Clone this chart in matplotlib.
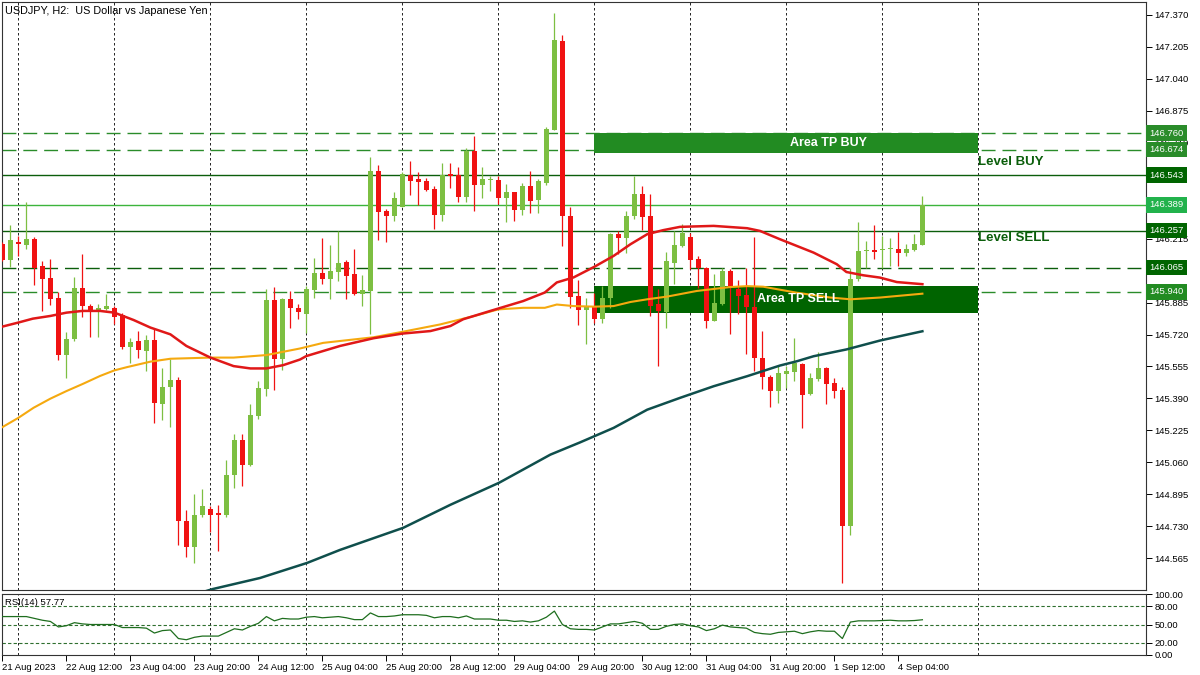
import numpy as np
import matplotlib
matplotlib.use("Agg")
import matplotlib.pyplot as plt
import matplotlib.transforms as mtransforms
from matplotlib.patches import Rectangle

plt.rcParams['font.family'] = ['Liberation Sans', 'DejaVu Sans']

# USDJPY H2 candles, 21 Aug 20:00 .. 4 Sep 10:00
opens = [146.186, 146.105, 146.198, 146.183, 146.212, 146.073, 146.011, 145.907, 145.614, 145.697,
         145.959, 145.869, 145.847, 145.854, 145.855, 145.823, 145.654, 145.685, 145.633, 145.692,
         145.361, 145.449, 145.483, 144.759, 144.621, 144.787, 144.821, 144.797, 144.787, 144.994,
         145.175, 145.044, 145.301, 145.438, 145.898, 145.593, 145.902, 145.859, 145.828, 145.950,
         146.040, 146.005, 146.043, 146.093, 146.031, 145.931, 145.945, 146.564, 146.357, 146.333,
         146.379, 146.545, 146.521, 146.512, 146.472, 146.336, 146.547, 146.545, 146.431, 146.667,
         146.493, 146.516, 146.517, 146.424, 146.455, 146.362, 146.486, 146.414, 146.505, 146.776,
         147.236, 146.330, 145.918, 145.847, 145.862, 145.799, 145.911, 146.238, 146.217, 146.330,
         146.448, 146.330, 145.880, 145.836, 146.087, 146.178, 146.224, 146.110, 146.064, 145.790,
         145.876, 146.048, 145.954, 145.924, 145.862, 145.601, 145.502, 145.428, 145.518, 145.526,
         145.568, 145.411, 145.488, 145.545, 145.468, 145.433, 144.730, 146.009, 146.150, 146.157,
         146.158, 146.162, 146.164, 146.143, 146.157, 146.183]
highs = [146.197, 146.286, 146.229, 146.402, 146.224, 146.100, 146.110, 145.940, 145.735, 146.017,
         146.135, 145.876, 145.876, 145.931, 145.867, 145.830, 145.702, 145.740, 145.719, 145.747,
         145.545, 145.592, 145.502, 144.816, 144.897, 144.920, 144.837, 144.842, 145.071, 145.208,
         145.204, 145.359, 145.482, 145.954, 145.964, 145.907, 145.945, 145.876, 145.971, 146.114,
         146.216, 146.183, 146.257, 146.104, 146.160, 146.030, 146.638, 146.596, 146.367, 146.457,
         146.557, 146.617, 146.560, 146.526, 146.485, 146.604, 146.607, 146.586, 146.681, 146.746,
         146.584, 146.539, 146.539, 146.495, 146.457, 146.500, 146.562, 146.522, 146.793, 147.379,
         147.269, 146.378, 146.000, 145.911, 145.937, 145.971, 146.243, 146.255, 146.359, 146.539,
         146.488, 146.445, 145.954, 146.147, 146.255, 146.293, 146.243, 146.126, 146.071, 146.031,
         146.066, 146.057, 146.002, 146.066, 146.226, 145.738, 145.509, 145.557, 145.557, 145.700,
         145.575, 145.523, 145.632, 145.552, 145.497, 145.449, 146.066, 146.299, 146.203, 146.285,
         146.229, 146.217, 146.247, 146.186, 146.238, 146.436]
lows = [146.098, 146.071, 146.126, 146.160, 145.976, 145.842, 145.873, 145.588, 145.494, 145.686,
        145.813, 145.707, 145.707, 145.849, 145.776, 145.643, 145.573, 145.599, 145.531, 145.265,
        145.278, 145.242, 144.632, 144.570, 144.539, 144.779, 144.701, 144.601, 144.780, 144.928,
        144.937, 145.040, 145.282, 145.402, 145.433, 145.535, 145.754, 145.799, 145.730, 145.911,
        145.980, 145.902, 145.995, 145.902, 145.923, 145.867, 145.721, 146.209, 146.200, 146.307,
        146.376, 146.440, 146.390, 146.462, 146.267, 146.307, 146.476, 146.405, 146.405, 146.359,
        146.424, 146.459, 146.393, 146.302, 146.307, 146.336, 146.350, 146.350, 146.493, 146.776,
        146.178, 145.859, 145.767, 145.669, 145.782, 145.782, 145.859, 146.138, 146.143, 146.319,
        146.259, 145.816, 145.557, 145.756, 145.980, 146.174, 146.057, 145.962, 145.756, 145.790,
        145.873, 145.721, 145.824, 145.621, 145.531, 145.437, 145.345, 145.364, 145.446, 145.480,
        145.239, 145.407, 145.480, 145.362, 145.394, 144.437, 144.687, 145.997, 146.066, 146.109,
        146.066, 146.074, 146.074, 146.126, 146.152, 146.181]
closes = [146.105, 146.207, 146.185, 146.212, 146.066, 146.009, 145.904, 145.614, 145.695, 145.959,
          145.867, 145.840, 145.855, 145.866, 145.813, 145.655, 145.683, 145.642, 145.692, 145.366,
          145.447, 145.483, 144.756, 144.621, 144.790, 144.837, 144.790, 144.789, 144.997, 145.173,
          145.044, 145.307, 145.442, 145.898, 145.593, 145.904, 145.859, 145.837, 145.954, 146.040,
          146.005, 146.048, 146.088, 146.022, 145.928, 145.949, 146.564, 146.353, 146.333, 146.424,
          146.550, 146.514, 146.508, 146.467, 146.336, 146.545, 146.538, 146.431, 146.667, 146.493,
          146.522, 146.519, 146.424, 146.455, 146.364, 146.486, 146.410, 146.514, 146.781, 147.243,
          146.330, 145.914, 145.847, 145.869, 145.799, 145.911, 146.238, 146.217, 146.330, 146.448,
          146.327, 145.867, 145.842, 146.100, 146.181, 146.243, 146.105, 146.064, 145.790, 145.881,
          146.048, 145.968, 145.919, 145.862, 145.601, 145.502, 145.428, 145.523, 145.531, 145.571,
          145.407, 145.494, 145.549, 145.463, 145.428, 144.730, 146.009, 146.149, 146.157, 146.147,
          146.160, 146.164, 146.140, 146.160, 146.190, 146.389]

# moving averages (bar index, price)
ma_fast_bar = [0, 2, 3.8, 6, 8, 10, 12.2, 14, 16.4, 18.5, 21, 23, 26, 28.9, 31, 33, 35.1, 37.2, 38,
               42.2, 46.4, 50, 53.5, 56, 57.6, 61, 65.1, 67.8, 69.3, 71.4, 74, 76.4, 78.5, 80.6, 82.6,
               84.7, 88.9, 93.1, 94.7, 97.2, 101.4, 104.3, 105.5, 107.6, 109.7, 111.8, 115]
ma_fast_val = [145.761, 145.782, 145.802, 145.816, 145.833, 145.842, 145.842, 145.833, 145.795, 145.756,
               145.721, 145.661, 145.601, 145.557, 145.545, 145.545, 145.562, 145.591, 145.609, 145.661,
               145.701, 145.725, 145.738, 145.764, 145.799, 145.842, 145.893, 145.937, 145.989, 146.015,
               146.070, 146.126, 146.186, 146.238, 146.259, 146.276, 146.281, 146.269, 146.255, 146.212,
               146.143, 146.083, 146.043, 146.026, 146.014, 145.991, 145.980]
ma_mid_bar = [0, 2, 3.9, 6, 8, 10.1, 12.2, 14, 15.6, 18.5, 21, 26, 28.9, 33, 37.2, 40.1, 46.4, 50,
              54.7, 58.9, 62, 65.1, 67.8, 69.3, 71.4, 74, 76.4, 78.5, 80.6, 83.1, 86.8, 90.9, 93.1,
              95.1, 99.3, 103.5, 106, 109.7, 115]
ma_mid_val = [145.242, 145.290, 145.342, 145.389, 145.428, 145.466, 145.506, 145.535, 145.552, 145.580,
              145.595, 145.601, 145.601, 145.614, 145.648, 145.677, 145.706, 145.734, 145.772, 145.815,
              145.850, 145.858, 145.858, 145.875, 145.867, 145.864, 145.867, 145.888, 145.902, 145.916,
              145.945, 145.965, 145.970, 145.967, 145.936, 145.911, 145.902, 145.911, 145.931]
ma_slow_bar = [24.7, 26.3, 32.2, 38.1, 42.2, 50.1, 56, 62.1, 68.5, 72.2, 76.4, 80.6, 84.7, 88.9,
               93.1, 97.2, 99.3, 101.4, 105.5, 109.7, 115]
ma_slow_val = [144.386, 144.406, 144.463, 144.541, 144.608, 144.722, 144.841, 144.955, 145.100, 145.163,
               145.238, 145.332, 145.393, 145.453, 145.505, 145.560, 145.582, 145.608, 145.643, 145.689,
               145.737]

rsi = [63, 63, 63, 63, 60, 57, 55, 46, 48, 53,
       51, 50, 50, 50, 50, 45, 45, 45, 44, 36,
       40, 41, 27, 25, 29, 31, 31, 31, 37, 43,
       41, 47, 52, 63, 56, 60, 59, 59, 62, 63,
       61, 62, 63, 61, 58, 58, 69, 63, 63, 64,
       66, 66, 66, 65, 61, 63, 63, 61, 64, 59,
       59, 59, 57, 57, 55, 56, 54, 56, 62, 72,
       50, 43, 42, 42, 41, 46, 51, 51, 53, 55,
       52, 42, 42, 47, 50, 51, 48, 46, 40, 43,
       49, 46, 45, 44, 37, 35, 34, 37, 38, 39,
       35, 38, 40, 39, 39, 27, 54, 56, 56, 56,
       56.5, 57, 56, 56, 56.5, 57.77]

# horizontal levels
level_prices = [146.760, 146.674, 146.543, 146.389, 146.257, 146.065, 145.940]
level_dashed = [True, True, False, False, False, True, True]
level_colors = ['#2a8c2a', '#2a8c2a', '#0b5e0b', '#3cb43c', '#0b5e0b', '#0b5e0b', '#2a8c2a']
level_box_colors = ['#2a8c2a', '#2a8c2a', '#006400', '#22b24c', '#006400', '#006400', '#228b22']

price_ticks = [144.565 + 0.165 * k for k in range(18)]
# scale labels that sit completely under a price box
hidden_ticks = ['146.050', '146.380', '146.545']
time_labels = ['21 Aug 2023', '22 Aug 12:00', '23 Aug 04:00', '23 Aug 20:00', '24 Aug 12:00',
               '25 Aug 04:00', '25 Aug 20:00', '28 Aug 12:00', '29 Aug 04:00', '29 Aug 20:00',
               '30 Aug 12:00', '31 Aug 04:00', '31 Aug 20:00', '1 Sep 12:00', '4 Sep 04:00']

bull = '#7dbf42'
bear = '#f01212'

fig = plt.figure(figsize=(12, 6.75), dpi=100)
ax = fig.add_axes([2 / 1200, 85 / 675, 1144 / 1200, 588 / 675])
ax2 = fig.add_axes([2 / 1200, 20 / 675, 1144 / 1200, 61 / 675])

n = len(opens)
x = np.arange(n)
o = np.array(opens); h = np.array(highs); l = np.array(lows); c = np.array(closes)
up = c >= o
cols = np.where(up, bull, bear)

# grid
for gx in range(2, 123, 12):
    for a in (ax, ax2):
        a.axvline(gx, color='black', lw=0.6, ls=(0, (3, 3)), zorder=1)

# level lines
for p, d, col in zip(level_prices, level_dashed, level_colors):
    ax.axhline(p, color=col, lw=1.0, ls=(0, (10, 5)) if d else '-', zorder=1.5)

# target areas
ax.add_patch(Rectangle((74, 146.655), 48, 0.105, fc='#228b22', ec='none', zorder=2))
ax.add_patch(Rectangle((74, 145.833), 48, 0.137, fc='#006400', ec='none', zorder=2))

# candles
ax.vlines(x, l, h, colors=cols, lw=0.9, zorder=3)
body_lo = np.minimum(o, c)
body_h = np.maximum(np.abs(c - o), 0.006)
ax.bar(x, body_h, bottom=body_lo, width=0.58, color=cols, edgecolor='none', zorder=3)

# moving averages
ax.plot(ma_slow_bar, ma_slow_val, color='#0f4f4c', lw=1.8, zorder=4)
ax.plot(ma_mid_bar, ma_mid_val, color='#f5a90f', lw=1.5, zorder=4)
ax.plot(ma_fast_bar, ma_fast_val, color='#e01818', lw=1.8, zorder=4)

# annotations
ax.text(103.2, 146.708, 'Area TP BUY', color='white', fontsize=9, fontweight='bold',
        ha='center', va='center', zorder=6)
ax.text(99.5, 145.905, 'Area TP SELL', color='white', fontsize=9, fontweight='bold',
        ha='center', va='center', zorder=6)
ax.text(122.0, 146.61, 'Level BUY', color='#0b5e0b', fontsize=9.5, fontweight='bold',
        ha='left', va='center', zorder=6)
ax.text(122.0, 146.217, 'Level SELL', color='#0b5e0b', fontsize=9.5, fontweight='bold',
        ha='left', va='center', zorder=6)
ax.text(0.0026, 0.994, 'USDJPY, H2:  US Dollar vs Japanese Yen', transform=ax.transAxes,
        fontsize=7.8, ha='left', va='top', zorder=6)

ax.set_xlim(-0.05, 142.95)
ax.set_ylim(144.401, 147.437)
ax.set_xticks([])
ax.yaxis.tick_right()
ax.set_yticks(price_ticks)
ax.set_yticklabels(['' if f'{t:.3f}' in hidden_ticks else f'{t:.3f}' for t in price_ticks])
ax.tick_params(axis='y', direction='out', length=4, width=0.7, pad=2, labelsize=6.8)

trans = mtransforms.blended_transform_factory(ax.transAxes, ax.transData)
for p, col in zip(level_prices, level_box_colors):
    ax.text(1.003, p, f'{p:.3f}', transform=trans, ha='left', va='center', fontsize=6.8,
            color='white', zorder=10, clip_on=False,
            bbox=dict(boxstyle='square,pad=0.34', fc=col, ec='none'))

# RSI panel
ax2.plot(x, rsi, color='#1e6e1e', lw=0.9, zorder=3)
for lv in (20, 50, 80):
    ax2.axhline(lv, color='#2f6f2f', lw=0.8, ls=(0, (3, 2)), zorder=1)
ax2.text(0.0026, 0.93, 'RSI(14) 57.77', transform=ax2.transAxes, fontsize=6.8,
         ha='left', va='top', zorder=6)
ax2.set_xlim(-0.05, 142.95)
ax2.set_ylim(0, 100)
ax2.yaxis.tick_right()
ax2.set_yticks([0, 20, 50, 80, 100])
ax2.set_yticklabels(['0.00', '20.00', '50.00', '80.00', '100.00'])
ax2.tick_params(axis='y', direction='out', length=4, width=0.7, pad=2, labelsize=6.8)
ax2.set_xticks(range(0, 113, 8))
ax2.set_xticklabels(time_labels)
for lab in ax2.get_xticklabels():
    lab.set_horizontalalignment('left')
ax2.tick_params(axis='x', direction='out', length=4, width=0.7, pad=2, labelsize=6.8)

for a in (ax, ax2):
    for s in a.spines.values():
        s.set_color('#333333')
        s.set_linewidth(0.8)

fig.savefig('out.png', dpi=100)
